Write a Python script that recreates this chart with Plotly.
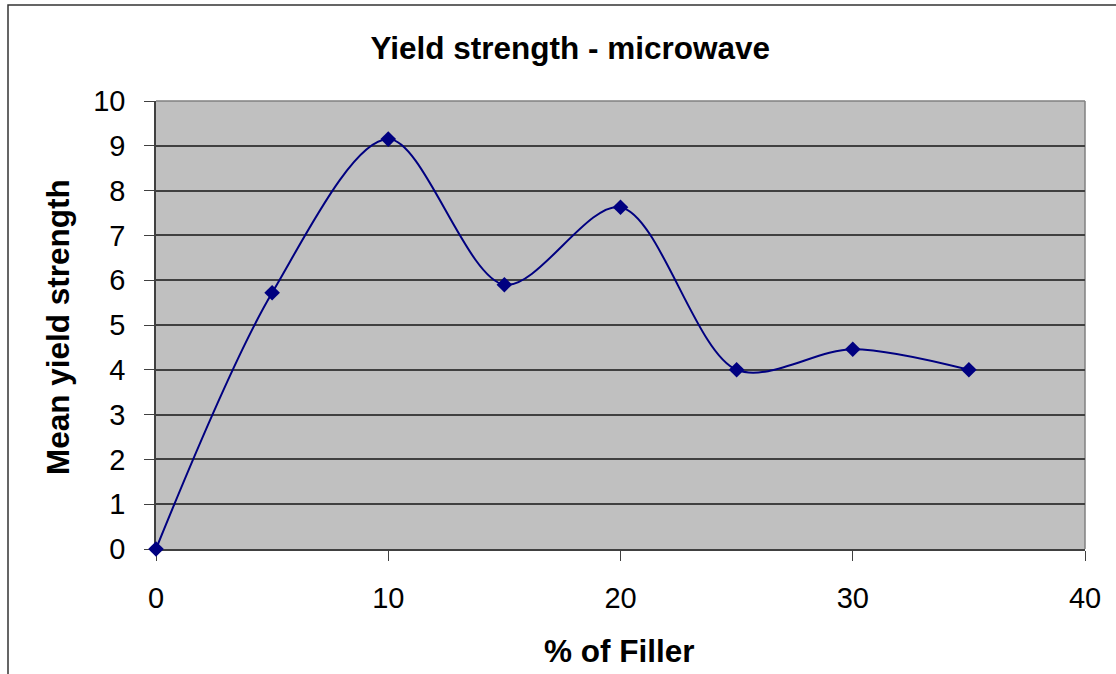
import plotly.graph_objects as go

filler = [0, 5, 10, 15, 20, 25, 30, 35]
strength = [0, 5.72, 9.15, 5.9, 7.63, 4.0, 4.46, 4.0]

title_text = "Yield strength - microwave"
x_title = "% of Filler"
y_title = "Mean yield strength"

x_ticks = [0, 10, 20, 30, 40]
y_ticks = list(range(0, 11))

W, H = 1116, 674
L, R, T, B = 156, 31, 101, 125
pw, ph = W - L - R, H - T - B

def px(xp):
    return (xp - L) / pw

def py(yp):
    return (H - B - yp) / ph

FONT = "Liberation Sans, Arial, sans-serif"

fig = go.Figure()
fig.add_trace(go.Scatter(
    x=filler, y=strength, mode="lines+markers",
    line=dict(color="#000080", width=2, shape="spline", smoothing=0.9),
    marker=dict(symbol="diamond", size=12, color="#000080"),
    cliponaxis=False, showlegend=False,
))

fig.update_layout(
    width=W, height=H,
    margin=dict(l=L, r=R, t=T, b=B, autoexpand=False),
    paper_bgcolor="white", plot_bgcolor="#C0C0C0",
    font=dict(family=FONT, color="black"),
    title=dict(text="<b>" + title_text + "</b>", font=dict(size=31.5, family=FONT),
               x=0.511, xref="container", xanchor="center",
               y=1 - 48 / H, yref="container", yanchor="middle"),
    xaxis=dict(range=[0, 40], tickvals=x_ticks, ticks="outside", ticklen=10,
               tickcolor="#404040", showgrid=False, zeroline=False,
               showline=True, linecolor="#404040", linewidth=1.5,
               layer="below traces",
               tickfont=dict(size=29), ticklabelstandoff=12, fixedrange=True),
    yaxis=dict(range=[0, 10], tickvals=y_ticks, ticks="outside", ticklen=10,
               tickcolor="#404040", showgrid=True, gridcolor="#404040", gridwidth=1.5,
               zeroline=False, showline=True, linecolor="#404040", linewidth=1.5,
               layer="below traces",
               tickfont=dict(size=29), ticklabelstandoff=13, fixedrange=True),
    shapes=[
        # plot area border (top/right grey)
        dict(type="line", xref="paper", yref="paper", x0=0, y0=1, x1=1, y1=1,
             line=dict(color="#808080", width=1.5), layer="below"),
        dict(type="line", xref="paper", yref="paper", x0=1, y0=0, x1=1, y1=1,
             line=dict(color="#808080", width=1.5), layer="below"),
        # chart area border
        dict(type="rect", xref="paper", yref="paper",
             x0=px(8), y0=py(680), x1=px(1122), y1=py(5),
             line=dict(color="#333333", width=1.5), layer="above"),
    ],
    annotations=[
        dict(text="<b>" + x_title + "</b>", xref="paper", yref="paper",
             x=px(619), y=py(651), xanchor="center", yanchor="middle",
             showarrow=False, font=dict(size=31.5)),
        dict(text="<b>" + y_title + "</b>", xref="paper", yref="paper",
             x=px(58), y=py(327), xanchor="center", yanchor="middle",
             textangle=-90, showarrow=False, font=dict(size=31.5)),
    ],
)

fig.write_html("out.html")
